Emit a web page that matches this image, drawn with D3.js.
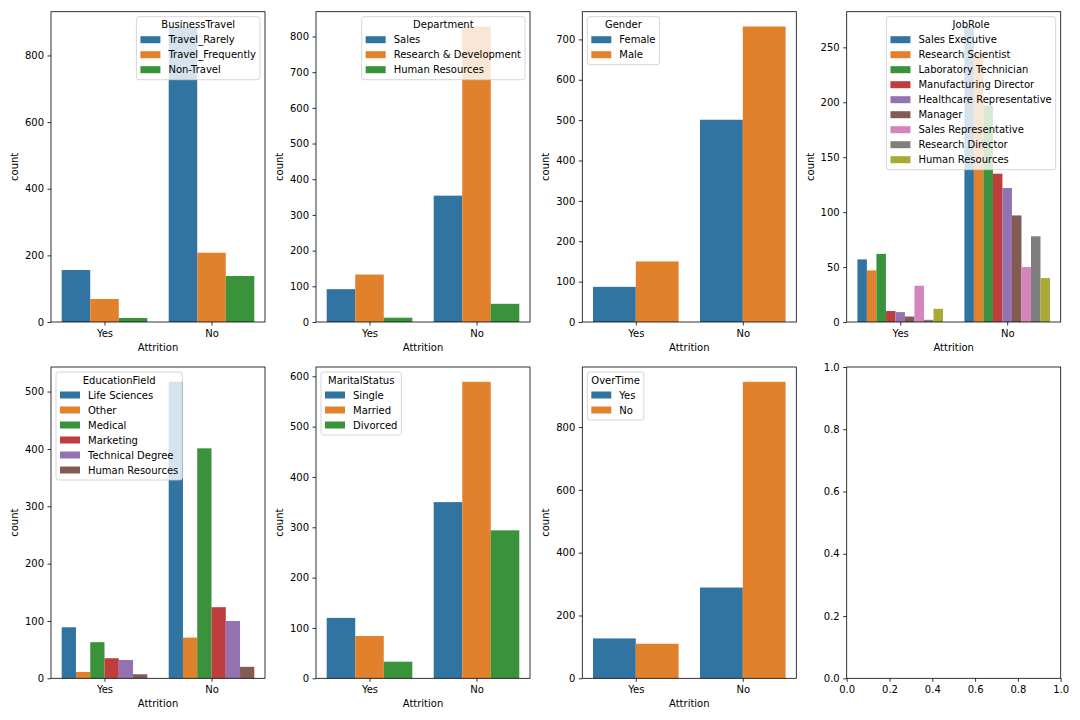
<!DOCTYPE html>
<html><head><meta charset="utf-8">
<script src="https://cdn.jsdelivr.net/npm/d3@7"></script>
<style>
body{margin:0;background:#fff;}
svg text{font-family:"DejaVu Sans",sans-serif;font-size:10px;fill:#000;}
</style></head>
<body><svg id="c" width="1080" height="720"></svg>
<script>
const attrition = ["Yes", "No"];
const palette = ["#3274a1","#e1812c","#3a923a","#c03d3e","#9372b2","#845b53","#d684bd","#7f7f7f","#a9aa35"];

const businessTravelLevels = ["Travel_Rarely","Travel_Frequently","Non-Travel"];
const businessTravelYes = [156, 69, 12];
const businessTravelNo  = [887, 208, 138];
const businessTravelTicks = [0,200,400,600,800];

const departmentLevels = ["Sales","Research & Development","Human Resources"];
const departmentYes = [92, 133, 12];
const departmentNo  = [354, 828, 51];
const departmentTicks = [0,100,200,300,400,500,600,700,800];

const genderLevels = ["Female","Male"];
const genderYes = [87, 150];
const genderNo  = [501, 732];
const genderTicks = [0,100,200,300,400,500,600,700];

const jobRoleLevels = ["Sales Executive","Research Scientist","Laboratory Technician","Manufacturing Director","Healthcare Representative","Manager","Sales Representative","Research Director","Human Resources"];
const jobRoleYes = [57, 47, 62, 10, 9, 5, 33, 2, 12];
const jobRoleNo  = [269, 245, 197, 135, 122, 97, 50, 78, 40];
const jobRoleTicks = [0,50,100,150,200,250];

const educationLevels = ["Life Sciences","Other","Medical","Marketing","Technical Degree","Human Resources"];
const educationYes = [89, 11, 63, 35, 32, 7];
const educationNo  = [517, 71, 401, 124, 100, 20];
const educationTicks = [0,100,200,300,400,500];

const maritalLevels = ["Single","Married","Divorced"];
const maritalYes = [120, 84, 33];
const maritalNo  = [350, 589, 294];
const maritalTicks = [0,100,200,300,400,500,600];

const overTimeLevels = ["Yes","No"];
const overTimeYes = [127, 110];
const overTimeNo  = [289, 944];
const overTimeTicks = [0,200,400,600,800];

const emptyTicks = [0,0.2,0.4,0.6,0.8,1.0];

const colLefts = [51, 316, 582.3, 846.7];
const axW = 214;
const rows = [{top:11.7, bottom:322},{top:367, bottom:678.3}];

const panels = [
  {title:"BusinessTravel", levels:businessTravelLevels, yes:businessTravelYes, no:businessTravelNo, ticks:businessTravelTicks, loc:"right"},
  {title:"Department", levels:departmentLevels, yes:departmentYes, no:departmentNo, ticks:departmentTicks, loc:"right"},
  {title:"Gender", levels:genderLevels, yes:genderYes, no:genderNo, ticks:genderTicks, loc:"left"},
  {title:"JobRole", levels:jobRoleLevels, yes:jobRoleYes, no:jobRoleNo, ticks:jobRoleTicks, loc:"right"},
  {title:"EducationField", levels:educationLevels, yes:educationYes, no:educationNo, ticks:educationTicks, loc:"left"},
  {title:"MaritalStatus", levels:maritalLevels, yes:maritalYes, no:maritalNo, ticks:maritalTicks, loc:"left"},
  {title:"OverTime", levels:overTimeLevels, yes:overTimeYes, no:overTimeNo, ticks:overTimeTicks, loc:"left"},
  null
];

const svg = d3.select("#c");

function styleAxis(g){
  g.selectAll("path.domain").remove();
  g.selectAll(".tick line").attr("stroke","#000").attr("stroke-width",0.8);
  g.selectAll(".tick text").attr("font-family","DejaVu Sans").attr("font-size",10).attr("fill","#000");
}

panels.forEach((p, idx) => {
  const r = Math.floor(idx/4), c = idx%4;
  const L = colLefts[c], R = L + axW, T = rows[r].top, B = rows[r].bottom;
  const g = svg.append("g");
  let x, y;
  if (p) {
    const maxV = d3.max(p.yes.concat(p.no));
    x = d3.scaleLinear().domain([-0.5, 1.5]).range([L, R]);
    y = d3.scaleLinear().domain([0, maxV*1.05]).range([B, T]);
    const n = p.levels.length, bw = 0.8/n;
    const bars = [];
    attrition.forEach((a, gi) => {
      const vals = gi === 0 ? p.yes : p.no;
      vals.forEach((v, hi) => bars.push({gi, hi, v}));
    });
    g.selectAll("rect.bar").data(bars).enter().append("rect")
      .attr("x", d => x(d.gi - 0.4 + d.hi*bw))
      .attr("width", d => x(d.gi - 0.4 + (d.hi+1)*bw) - x(d.gi - 0.4 + d.hi*bw))
      .attr("y", d => y(d.v))
      .attr("height", d => y(0) - y(d.v))
      .attr("fill", d => palette[d.hi]);
    // axes
    const xa = g.append("g").attr("transform",`translate(0,${B})`)
      .call(d3.axisBottom(x).tickValues([0,1]).tickFormat(i => attrition[i]).tickSize(3.5).tickPadding(3.5));
    styleAxis(xa);
    xa.selectAll(".tick text").attr("dy","0.75em");
    const ya = g.append("g").attr("transform",`translate(${L},0)`)
      .call(d3.axisLeft(y).tickValues(p.ticks).tickFormat(d3.format("d")).tickSize(3.5).tickPadding(3.5));
    styleAxis(ya);
    const tw = d3.max(ya.selectAll(".tick text").nodes(), n => n.getComputedTextLength());
    g.append("text").attr("transform",`translate(${L-7-tw-4-3},${(T+B)/2}) rotate(-90)`)
      .attr("text-anchor","middle").text("count");
    g.append("text").attr("x",(L+R)/2).attr("y",B+29).attr("text-anchor","middle").text("Attrition");
    // legend
    const lg = svg.append("g");
    const box = lg.append("rect");
    const title = lg.append("text").attr("text-anchor","middle").attr("dy","0.35em").text(p.title);
    const items = lg.selectAll("g.item").data(p.levels).enter().append("g");
    items.append("rect").attr("x",4).attr("y",(d,i)=>8+15*(i+1)-3.5).attr("width",20).attr("height",7)
      .attr("fill",(d,i)=>palette[i]);
    items.append("text").attr("x",32).attr("y",(d,i)=>8+15*(i+1)).attr("dy","0.35em").text(d=>d);
    const maxText = d3.max(items.selectAll("text").nodes(), n => n.getComputedTextLength());
    const w = Math.max(4+20+8+maxText+4, title.node().getComputedTextLength()+8);
    const h = 8 + 15*p.levels.length + 10;
    title.attr("x", w/2).attr("y", 8);
    box.attr("width",w).attr("height",h).attr("rx",2.5).attr("ry",2.5)
      .attr("fill","#fff").attr("fill-opacity",0.8).attr("stroke","#ccc").attr("stroke-opacity",0.8).attr("stroke-width",1);
    const lx = p.loc === "right" ? R - 5 - w : L + 5;
    lg.attr("transform",`translate(${lx},${T+5})`);
  } else {
    x = d3.scaleLinear().domain([0,1]).range([L,R]);
    y = d3.scaleLinear().domain([0,1]).range([B,T]);
    const xa = g.append("g").attr("transform",`translate(0,${B})`)
      .call(d3.axisBottom(x).tickValues(emptyTicks).tickFormat(d3.format(".1f")).tickSize(3.5).tickPadding(3.5));
    styleAxis(xa);
    xa.selectAll(".tick text").attr("dy","0.75em");
    const ya = g.append("g").attr("transform",`translate(${L},0)`)
      .call(d3.axisLeft(y).tickValues(emptyTicks).tickFormat(d3.format(".1f")).tickSize(3.5).tickPadding(3.5));
    styleAxis(ya);
  }
  g.append("rect").attr("x",L).attr("y",T).attr("width",R-L).attr("height",B-T)
    .attr("fill","none").attr("stroke","#000").attr("stroke-width",0.8);
  g.raise();
});
// ensure legends are on top of frames
svg.selectAll("g").filter(function(){return this.parentNode === svg.node() && this.querySelector("rect[rx]");}).raise();
</script></body></html>
